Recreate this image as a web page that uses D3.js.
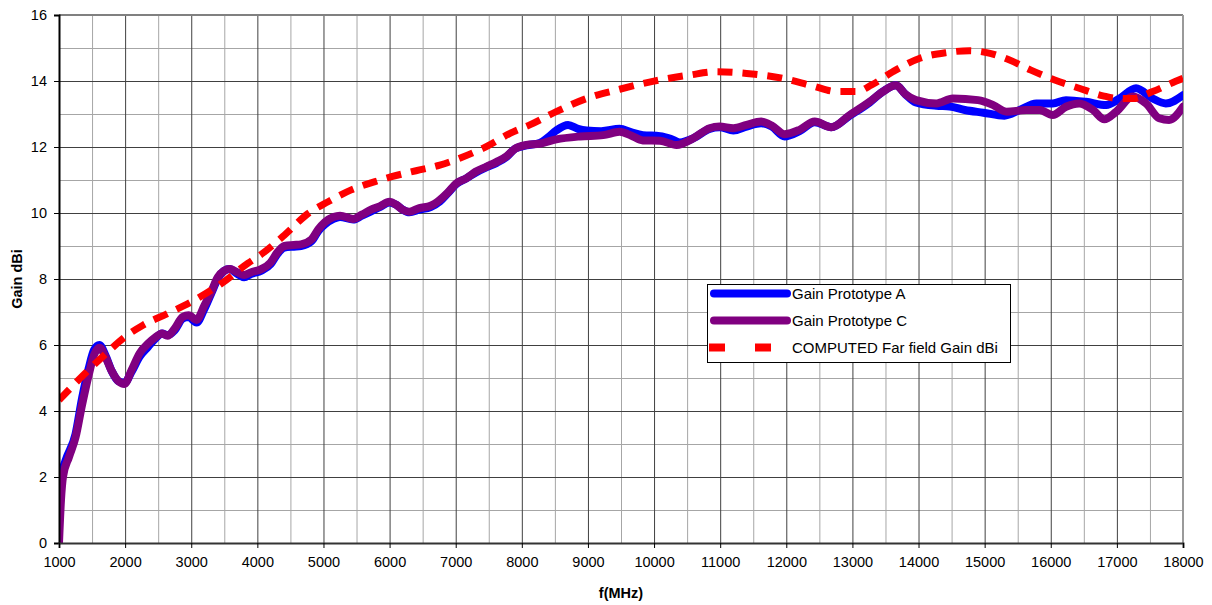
<!DOCTYPE html>
<html>
<head>
<meta charset="utf-8">
<script src="https://cdn.jsdelivr.net/npm/d3@7"></script>
<style>
  body { margin: 0; background: #fff; }
  text { font-family: "Liberation Sans", Arial, sans-serif; }
</style>
</head>
<body>
<div id="vis"></div>
<script>
// Data
var freqA = [1000, 1020, 1100, 1250, 1350, 1450, 1530, 1610, 1700, 1800, 1900, 1990, 2100, 2220, 2350, 2450, 2560, 2640, 2750, 2870, 2960, 3080, 3200, 3300, 3400, 3500, 3580, 3700, 3800, 3900, 4060, 4200, 4300, 4410, 4550, 4660, 4820, 4920, 5020, 5150, 5250, 5450, 5580, 5720, 5850, 6000, 6100, 6200, 6300, 6450, 6620, 6760, 6880, 7010, 7160, 7300, 7460, 7620, 7770, 7900, 8070, 8270, 8400, 8520, 8700, 8850, 8980, 9200, 9480, 9650, 9830, 10090, 10250, 10390, 10590, 10840, 10990, 11200, 11400, 11620, 11780, 11975, 12200, 12430, 12680, 12960, 13260, 13460, 13660, 13800, 13960, 14270, 14470, 14700, 14980, 15300, 15530, 15780, 16030, 16230, 16530, 16840, 17040, 17290, 17540, 17740, 18000];
var gainA = [0.8, 1.9, 2.5, 3.3, 4.4, 5.3, 5.85, 6.0, 5.7, 5.2, 4.9, 4.85, 5.2, 5.65, 5.95, 6.18, 6.35, 6.3, 6.45, 6.8, 6.85, 6.68, 7.1, 7.55, 8.0, 8.25, 8.3, 8.15, 8.05, 8.15, 8.25, 8.45, 8.75, 8.95, 8.98, 9.0, 9.15, 9.45, 9.65, 9.82, 9.88, 9.8, 9.92, 10.05, 10.18, 10.32, 10.25, 10.1, 10.02, 10.1, 10.18, 10.35, 10.6, 10.88, 11.05, 11.22, 11.38, 11.52, 11.7, 11.95, 12.05, 12.12, 12.3, 12.5, 12.67, 12.55, 12.5, 12.48, 12.55, 12.45, 12.36, 12.33, 12.25, 12.14, 12.26, 12.55, 12.6, 12.5, 12.62, 12.72, 12.62, 12.32, 12.48, 12.75, 12.6, 12.95, 13.35, 13.68, 13.87, 13.6, 13.35, 13.25, 13.23, 13.12, 13.04, 12.95, 13.12, 13.32, 13.32, 13.42, 13.37, 13.27, 13.47, 13.78, 13.47, 13.32, 13.57];

var freqC = [1000, 1030, 1060, 1150, 1250, 1350, 1450, 1530, 1615, 1700, 1800, 1900, 1990, 2100, 2220, 2350, 2450, 2560, 2640, 2750, 2870, 2960, 3080, 3200, 3300, 3400, 3500, 3580, 3700, 3800, 3900, 4060, 4200, 4300, 4410, 4550, 4660, 4820, 4920, 5020, 5150, 5250, 5450, 5580, 5720, 5850, 6000, 6100, 6200, 6300, 6450, 6620, 6760, 6880, 7010, 7160, 7300, 7460, 7620, 7770, 7900, 8070, 8270, 8520, 8880, 9230, 9480, 9650, 9830, 10090, 10340, 10590, 10840, 10990, 11200, 11400, 11620, 11780, 11975, 12200, 12430, 12680, 12960, 13260, 13460, 13660, 13800, 13960, 14270, 14520, 14900, 15130, 15330, 15630, 15830, 16030, 16230, 16430, 16640, 16810, 16990, 17240, 17440, 17640, 17790, 18000];
var gainC = [0, 1.3, 2.0, 2.6, 3.2, 4.2, 5.1, 5.7, 5.92, 5.65, 5.2, 4.9, 4.82, 5.25, 5.75, 6.05, 6.22, 6.35, 6.28, 6.5, 6.85, 6.9, 6.76, 7.2, 7.6, 8.05, 8.25, 8.3, 8.2, 8.12, 8.2, 8.3, 8.5, 8.8, 9.0, 9.03, 9.05, 9.2, 9.5, 9.72, 9.88, 9.92, 9.82, 9.95, 10.1, 10.2, 10.34, 10.25, 10.1, 10.04, 10.15, 10.22, 10.4, 10.62, 10.9, 11.05, 11.25, 11.4, 11.55, 11.72, 11.95, 12.06, 12.1, 12.23, 12.32, 12.36, 12.46, 12.35, 12.2, 12.19, 12.06, 12.26, 12.57, 12.62, 12.57, 12.67, 12.77, 12.65, 12.39, 12.52, 12.77, 12.6, 12.97, 13.37, 13.68, 13.87, 13.6, 13.42, 13.32, 13.47, 13.42, 13.27, 13.07, 13.12, 13.12, 12.97, 13.22, 13.32, 13.12, 12.84, 13.07, 13.53, 13.32, 12.87, 12.82, 13.22];

var freqComputed = [1000, 1370, 1690, 2000, 2270, 2650, 3050, 3460, 3860, 4060, 4410, 4770, 5070, 5420, 5780, 6030, 6400, 6760, 7060, 7410, 7870, 8120, 8520, 8980, 9480, 9980, 10540, 10940, 11400, 11950, 12400, 12760, 13060, 13290, 13610, 14020, 14420, 14770, 15030, 15350, 15700, 16060, 16430, 16790, 17020, 17240, 17540, 17890, 18000];
var gainComputed = [4.33, 5.09, 5.7, 6.25, 6.6, 6.96, 7.36, 7.87, 8.48, 8.75, 9.33, 9.99, 10.34, 10.7, 10.95, 11.1, 11.28, 11.45, 11.66, 11.96, 12.46, 12.67, 13.07, 13.47, 13.75, 13.99, 14.18, 14.28, 14.23, 14.08, 13.85, 13.68, 13.68, 13.88, 14.28, 14.69, 14.86, 14.92, 14.86, 14.66, 14.33, 14.03, 13.78, 13.55, 13.47, 13.47, 13.68, 13.99, 14.08];

var seriesNames = ['Gain Prototype A', 'Gain Prototype C', 'COMPUTED Far field Gain dBi'];
var xTicks = [1000, 2000, 3000, 4000, 5000, 6000, 7000, 8000, 9000, 10000, 11000, 12000, 13000, 14000, 15000, 16000, 17000, 18000];
var yTicks = [0, 2, 4, 6, 8, 10, 12, 14, 16];

(function () {

  'strict';

  // Settings
  var margin = { top: 15, right: 29, bottom: 62, left: 59 };
  var width = 1212 - margin.left - margin.right;
  var height = 605 - margin.top - margin.bottom;

  var x = d3.scaleLinear().domain([1000, 18000]).range([0, width]);
  var y = d3.scaleLinear().domain([0, 16]).range([height, 0]);

  var svg = d3.select('#vis').append('svg')
      .attr('width', 1212)
      .attr('height', 605);

  var g = svg.append('g')
      .attr('transform', 'translate(' + margin.left + ',' + margin.top + ')');

  // Grid, minor first then major
  var minorX = d3.range(1500, 18000, 1000);
  var minorY = d3.range(1, 16, 2);

  g.append('g')
      .attr('class', 'grid')
      .attr('transform', 'translate(0,' + height + ')')
      .call(d3.axisBottom(x).tickValues(minorX).tickSize(-height).tickFormat(''))
      .call(styleGrid, '#a6a6a6');

  g.append('g')
      .attr('class', 'grid')
      .call(d3.axisLeft(y).tickValues(minorY).tickSize(-width).tickFormat(''))
      .call(styleGrid, '#a6a6a6');

  g.append('g')
      .attr('class', 'grid')
      .attr('transform', 'translate(0,' + height + ')')
      .call(d3.axisBottom(x).tickValues(xTicks).tickSize(-height).tickFormat(''))
      .call(styleGrid, '#404040');

  g.append('g')
      .attr('class', 'grid')
      .call(d3.axisLeft(y).tickValues(yTicks).tickSize(-width).tickFormat(''))
      .call(styleGrid, '#404040');

  // Frame: top and right in grey
  g.append('line')
      .attr('x1', 0).attr('x2', width)
      .attr('y1', 0).attr('y2', 0)
      .attr('stroke', '#808080')
      .attr('stroke-width', 2);

  g.append('line')
      .attr('x1', width).attr('x2', width)
      .attr('y1', 0).attr('y2', height)
      .attr('stroke', '#9a9a9a')
      .attr('stroke-width', 2);

  // Series
  g.append('clipPath')
      .attr('id', 'plot-clip')
    .append('rect')
      .attr('width', width)
      .attr('height', height);

  var line = d3.line()
      .x(function (d) { return x(d[0]); })
      .y(function (d) { return y(d[1]); })
      .curve(d3.curveMonotoneX);

  var series = [
    { values: d3.zip(freqA, gainA), color: '#0000ff', width: 8, dash: null },
    { values: d3.zip(freqC, gainC), color: '#800080', width: 8, dash: null },
    { values: d3.zip(freqComputed, gainComputed), color: '#ff0000', width: 7, dash: '15,10' }
  ];

  var lines = g.append('g')
      .attr('clip-path', 'url(#plot-clip)');

  series.forEach(function (s) {

    lines.append('path')
        .datum(s.values)
        .attr('fill', 'none')
        .attr('stroke', s.color)
        .attr('stroke-width', s.width)
        .attr('stroke-linejoin', 'round')
        .attr('stroke-linecap', s.dash ? 'butt' : 'round')
        .attr('stroke-dasharray', s.dash)
        .attr('d', line);
  });

  // Axes
  var yAxis = g.append('g')
      .call(d3.axisLeft(y).tickValues(yTicks).tickSize(5).tickPadding(7));

  yAxis.select('.domain')
      .attr('stroke', '#000')
      .attr('stroke-width', 2);

  var xAxis = g.append('g')
      .attr('transform', 'translate(0,' + height + ')')
      .call(d3.axisBottom(x).tickValues(xTicks).tickSize(5).tickPadding(9).tickFormat(d3.format('d')));

  xAxis.select('.domain')
      .attr('stroke', '#333')
      .attr('stroke-width', 2);

  g.selectAll('.tick text')
      .attr('font-family', '"Liberation Sans", Arial, sans-serif')
      .attr('font-size', 14.5)
      .attr('fill', '#000');

  g.selectAll('.tick line')
      .filter(function () { return !d3.select(this.parentNode.parentNode).classed('grid'); })
      .attr('stroke', '#000');

  // Axis titles
  svg.append('text')
      .attr('transform', 'translate(21.5,' + (margin.top + height / 2) + ') rotate(-90)')
      .attr('text-anchor', 'middle')
      .attr('font-size', 14.5)
      .attr('font-weight', 'bold')
      .text('Gain dBi');

  svg.append('text')
      .attr('x', margin.left + width / 2)
      .attr('y', 598)
      .attr('text-anchor', 'middle')
      .attr('font-size', 14.5)
      .attr('font-weight', 'bold')
      .text('f(MHz)');

  // Legend
  var legend = svg.append('g')
      .attr('transform', 'translate(707,284)');

  legend.append('rect')
      .attr('x', 0.5)
      .attr('y', 0.5)
      .attr('width', 303)
      .attr('height', 78)
      .attr('fill', '#fff')
      .attr('stroke', '#000');

  var item = legend.selectAll('.item')
      .data(series)
      .enter()
    .append('g')
      .attr('class', 'item')
      .attr('transform', function (d, i) { return 'translate(0,' + (9.5 + i * 27) + ')'; });

  item.append('line')
      .attr('x1', function (d) { return d.dash ? 2 : 7; })
      .attr('x2', function (d) { return d.dash ? 64 : 80; })
      .attr('stroke', function (d) { return d.color; })
      .attr('stroke-width', 8)
      .attr('stroke-linecap', function (d) { return d.dash ? 'butt' : 'round'; })
      .attr('stroke-dasharray', function (d) { return d.dash ? '16,30' : null; });

  item.append('text')
      .attr('x', 85)
      .attr('dy', '0.35em')
      .attr('font-size', 15)
      .text(function (d, i) { return seriesNames[i]; });

  function styleGrid(sel, color) {

    sel.select('.domain').remove();
    sel.selectAll('.tick line')
        .attr('stroke', color)
        .attr('stroke-width', 1);
  }
})();
</script>
</body>
</html>
